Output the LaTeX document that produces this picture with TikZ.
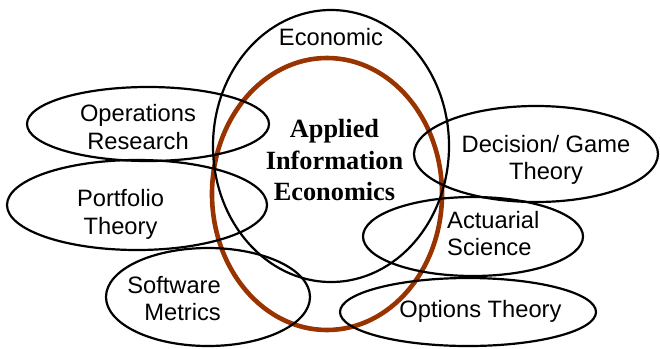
\documentclass[tikz,border=0pt]{standalone}
\usepackage{fontspec}
\setmainfont{Liberation Sans}
\newfontfamily\timesbf{Liberation Serif}
\definecolor{aiebrown}{RGB}{153,51,0}
\begin{document}
\begin{tikzpicture}[x=1pt,y=-1pt,
  field/.style={draw=black,line width=2.2pt},
  aie/.style={draw=aiebrown,line width=4.6pt},
  lbl/.style={inner sep=0pt,font=\fontsize{23.7}{27.5}\selectfont},
  core/.style={inner sep=0pt,align=center,font=\timesbf\bfseries\fontsize{26.3}{31.4}\selectfont}]
\useasboundingbox (0,0) rectangle (660,348);
% central brown ellipse
\path[aie] (327,194) ellipse [x radius=115pt, y radius=136pt];
% fields
\path[field] (331,146) ellipse [x radius=118pt, y radius=136pt];
\path[field] (148,124) ellipse [x radius=121pt, y radius=37pt];
\path[field] (137,205) ellipse [x radius=130pt, y radius=45pt];
\path[field] (208,297) ellipse [x radius=102pt, y radius=49pt];
\path[field] (536,154) ellipse [x radius=122pt, y radius=48pt];
\path[field] (473,236.5) ellipse [x radius=110pt, y radius=39.5pt];
\path[field] (468,312) ellipse [x radius=128pt, y radius=34pt];
% labels
\node[lbl,anchor=base] (econ) at (331,45.7) {Economic};
\node[lbl,anchor=north,align=center] (ops) at (138,104.4) {Operations\\Research};
\node[lbl,anchor=north,align=center] (port) at (120.5,189.4) {Portfolio\\Theory};
\node[lbl,anchor=north east,align=right] (soft) at (221,275.7) {Software\\Metrics};
\node[lbl,anchor=north,align=center] (dec) at (546,134.7) {Decision/ Game\\Theory};
\node[lbl,anchor=north west,align=left] (act) at (447,210.7) {Actuarial\\Science};
\node[lbl,anchor=base] (opt) at (480.5,317) {Options Theory};
\node[core,anchor=north] (aiet) at (334.5,119.4) {Applied\\Information\\Economics};
\end{tikzpicture}
\end{document}
